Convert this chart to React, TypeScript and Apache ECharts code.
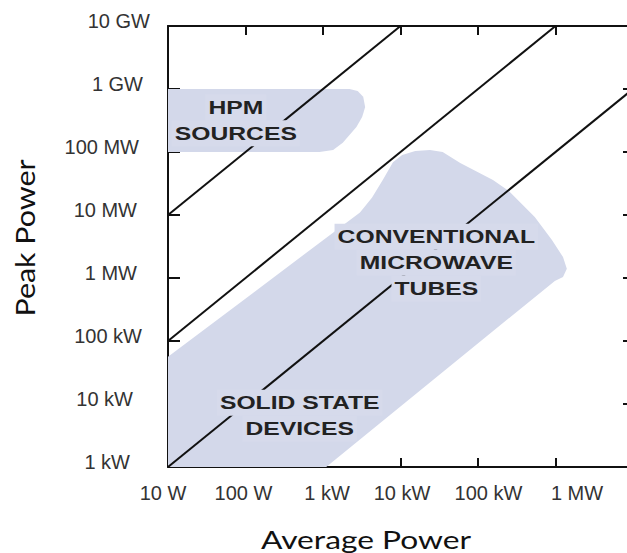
import React, { useEffect, useRef } from 'react';
import * as echarts from 'echarts';

// ---- Data ----
const xTickLabels = ['10 W', '100 W', '1 kW', '10 kW', '100 kW', '1 MW', ''];
const yTickLabels = ['1 kW', '10 kW', '100 kW', '1 MW', '10 MW', '100 MW', '1 GW', '10 GW'];

// [average power W, peak power W]
const hpmRegion: number[][] = [
  [10, 1e9], [2.2e3, 1e9], [2.8e3, 9.3e8], [3.3e3, 7.5e8], [3.5e3, 5.2e8],
  [3.2e3, 3.6e8], [2.7e3, 2.5e8], [1.8e3, 1.4e8], [1.35e3, 1.08e8], [9e2, 1e8], [10, 1e8],
];

const tubesSolidRegion: number[][] = [
  [10, 1e3], [10, 5.6e4], [3e3, 1.1e7], [4.3e3, 1.9e7], [5.9e3, 3.6e7], [8e3, 6.9e7],
  [1.05e4, 9e7], [1.55e4, 1.04e8], [2.4e4, 1.08e8], [3.5e4, 1e8], [5.9e4, 6.7e7],
  [1.56e5, 3.6e7], [2.5e5, 2.4e7], [5.4e5, 9.3e6], [9e5, 4e6], [1.25e6, 2.15e6],
  [1.4e6, 1.4e6], [1.25e6, 1.04e6], [9.8e5, 9e5], [1.1e3, 1e3],
];

// constant duty-factor lines (peak / average = 1e6, 1e4, 1e2)
const dutyLine1: number[][] = [[10, 1e7], [1e4, 1e10]];
const dutyLine2: number[][] = [[10, 1e5], [1e6, 1e10]];
const dutyLine3: number[][] = [[10, 1e3], [1e7, 1e9]];

const labelLines: string[][] = [
  ['HPM', 'SOURCES'],
  ['CONVENTIONAL', 'MICROWAVE', 'TUBES'],
  ['SOLID STATE', 'DEVICES'],
];
const labelAnchors: number[][] = [[75, 3.2e8], [2.9e4, 1.75e6], [500, 6.5e3]];

// ---- Styles ----
const SHADE = '#d3d8ea';
const LABEL_BG = '#d6daeb';
const AXIS_COLOR = '#111';
const TICK_FONT = '"Liberation Sans", Arial, sans-serif';
const LABEL_FONT = 'bold 19px "Liberation Sans", Arial, sans-serif';
const LABEL_SX = 1.3;
const LABEL_LH = 26;
// per-label nudges (px) to follow the reference's hand placement
const xLabelShift = [-5, -2, 4, 1.5, 10.5, 21.5, 0];
const yLabelInset = [20, 17, 8, 13, 13, 11, 7, 0];

let measureCtx: CanvasRenderingContext2D | null = null;
function measure(t: string): number {
  if (!measureCtx) {
    measureCtx = document.createElement('canvas').getContext('2d');
  }
  if (!measureCtx) return t.length * 12;
  measureCtx.font = LABEL_FONT;
  return measureCtx.measureText(t).width;
}

function regionSeries(points: number[][], name: string) {
  return {
    type: 'custom',
    name,
    z: 1,
    clip: true,
    data: points,
    renderItem: (params: any, api: any) => {
      if (params.dataIndex !== 0) return { type: 'group', children: [] };
      const pts = points.map((p) => api.coord(p));
      return { type: 'polygon', shape: { points: pts }, style: { fill: SHADE } };
    },
  };
}

function lineSeries(points: number[][], name: string) {
  return {
    type: 'line',
    name,
    z: 3,
    data: points,
    symbol: 'none',
    clip: true,
    lineStyle: { color: AXIS_COLOR, width: 2 },
  };
}

export default function App() {
  const ref = useRef<HTMLDivElement>(null);

  useEffect(() => {
    if (!ref.current) return;
    const chart = echarts.init(ref.current, null, { renderer: 'svg' });

    const xRich: any = {};
    xLabelShift.forEach((s, i) => {
      xRich['x' + i] = {
        fontSize: 20,
        fontFamily: TICK_FONT,
        color: '#333',
        padding: [0, s < 0 ? -2 * s : 0, 0, s > 0 ? 2 * s : 0],
      };
    });
    const yRich: any = {};
    yLabelInset.forEach((r, i) => {
      yRich['y' + i] = {
        fontSize: 20,
        fontFamily: TICK_FONT,
        color: '#333',
        padding: [0, r, 10, 0],
      };
    });

    const baseAxis = {
      type: 'log',
      logBase: 10,
      axisLine: { show: true, onZero: false, lineStyle: { color: AXIS_COLOR, width: 2 } },
      splitLine: { show: false },
      minorTick: { show: false },
    };

    chart.setOption({
      animation: false,
      backgroundColor: '#fff',
      grid: {
        left: 168,
        top: 26,
        right: -6,
        bottom: 86,
        containLabel: false,
        outerBoundsMode: 'none',
      },
      xAxis: [
        {
          ...baseAxis,
          position: 'bottom',
          min: 10,
          max: 1e7,
          splitNumber: 6,
          axisTick: { show: true, inside: true, length: 9, lineStyle: { color: AXIS_COLOR, width: 2 } },
          axisLabel: {
            show: true,
            margin: 16,
            showMinLabel: true,
            showMaxLabel: true,
            hideOverlap: false,
            formatter: (v: number) => {
              const i = Math.round(Math.log10(v)) - 1;
              const t = xTickLabels[i];
              return t ? `{x${i}|${t}}` : '';
            },
            rich: xRich,
          },
        },
        {
          ...baseAxis,
          position: 'top',
          min: 10,
          max: 1e7,
          splitNumber: 6,
          axisTick: { show: true, inside: true, length: 9, lineStyle: { color: AXIS_COLOR, width: 2 } },
          axisLabel: { show: false },
        },
      ],
      yAxis: [
        {
          ...baseAxis,
          position: 'left',
          min: 1e3,
          max: 1e10,
          splitNumber: 7,
          axisTick: { show: true, inside: true, length: 12, lineStyle: { color: AXIS_COLOR, width: 2 } },
          axisLabel: {
            show: true,
            margin: 18,
            showMinLabel: true,
            showMaxLabel: true,
            hideOverlap: false,
            formatter: (v: number) => {
              const i = Math.round(Math.log10(v)) - 3;
              const t = yTickLabels[i];
              return t ? `{y${i}|${t}}` : '';
            },
            rich: yRich,
          },
        },
        {
          ...baseAxis,
          position: 'right',
          min: 1e3,
          max: 1e10,
          splitNumber: 7,
          axisTick: { show: true, inside: true, length: 10, lineStyle: { color: AXIS_COLOR, width: 2 } },
          axisLabel: { show: false },
        },
      ],
      graphic: [
        {
          type: 'text',
          x: 366,
          y: 539,
          scaleX: 1.27,
          style: {
            text: 'Average Power',
            font: '25px Lato, "Open Sans", sans-serif',
            fill: '#111',
            align: 'center',
            verticalAlign: 'middle',
            textAlign: 'center',
            textVerticalAlign: 'middle',
          },
        },
        {
          type: 'text',
          x: 25,
          y: 238,
          rotation: Math.PI / 2,
          scaleX: 1.17,
          style: {
            text: 'Peak Power',
            font: '26px Lato, "Open Sans", sans-serif',
            fill: '#111',
            align: 'center',
            verticalAlign: 'middle',
            textAlign: 'center',
            textVerticalAlign: 'middle',
          },
        },
      ],
      series: [
        regionSeries(hpmRegion, 'HPM sources'),
        regionSeries(tubesSolidRegion, 'Tubes and solid state'),
        lineSeries(dutyLine1, 'duty 1e-6'),
        lineSeries(dutyLine2, 'duty 1e-4'),
        lineSeries(dutyLine3, 'duty 1e-2'),
        {
          type: 'custom',
          name: 'labels',
          z: 5,
          clip: false,
          data: labelAnchors,
          renderItem: (params: any, api: any) => {
            const idx = params.dataIndex;
            const p = api.coord([api.value(0), api.value(1)]);
            const lines = labelLines[idx];
            const n = lines.length;
            const rects: any[] = [];
            const texts: any[] = [];
            lines.forEach((t, k) => {
              const cy = p[1] + (k - (n - 1) / 2) * LABEL_LH;
              const w = measure(t) * LABEL_SX + 6;
              rects.push({
                type: 'rect',
                shape: { x: p[0] - w / 2, y: cy - LABEL_LH / 2, width: w, height: LABEL_LH },
                style: { fill: LABEL_BG },
              });
              texts.push({
                type: 'text',
                x: p[0],
                y: cy,
                scaleX: LABEL_SX,
                style: {
                  text: t,
                  font: LABEL_FONT,
                  fill: '#222',
                  align: 'center',
                  verticalAlign: 'middle',
                  textAlign: 'center',
                  textVerticalAlign: 'middle',
                },
              });
            });
            return { type: 'group', children: rects.concat(texts) };
          },
        },
      ],
    });

    return () => chart.dispose();
  }, []);

  return (
    <div
      ref={ref}
      style={{ position: 'absolute', left: 0, top: 0, width: 627, height: 553, background: '#fff' }}
    />
  );
}
